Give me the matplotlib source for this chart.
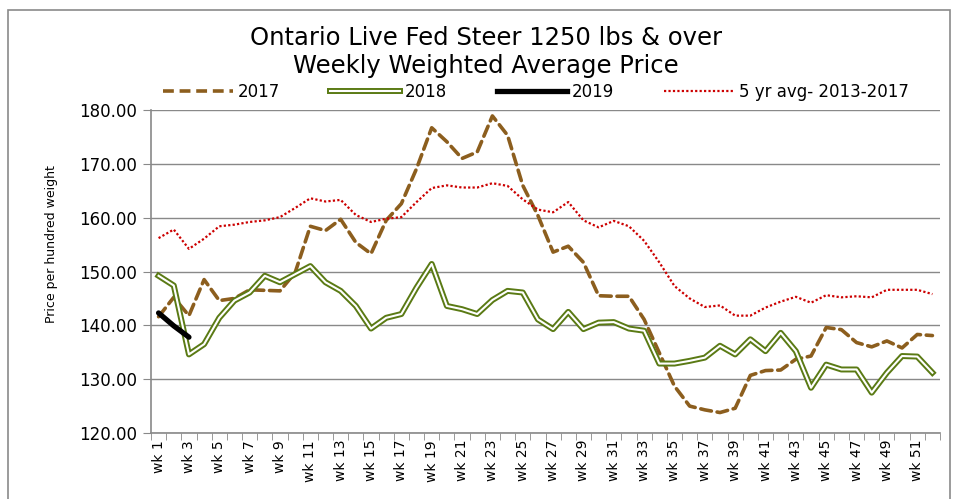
import matplotlib
matplotlib.use("Agg")
import matplotlib.pyplot as plt
from matplotlib.lines import Line2D
from matplotlib.legend_handler import HandlerTuple
from matplotlib.patches import Rectangle
import numpy as np

# data (price per cwt, weekly)
weeks = ['wk %d' % i for i in range(1, 53)]

y2017 = [141.6, 145.2, 141.8, 148.5, 144.6, 145.0, 146.6, 146.5, 146.4, 149.8,
         158.4, 157.6, 159.7, 155.4, 153.3, 159.5, 162.6, 169.1, 176.7, 174.1,
         171.0, 172.2, 178.9, 175.3, 166.0, 160.4, 153.6, 154.7, 151.7, 145.5,
         145.4, 145.4, 141.1, 134.9, 128.7, 125.0, 124.3, 123.8, 124.6, 130.7,
         131.6, 131.7, 133.7, 134.3, 139.6, 139.2, 136.8, 136.0, 137.1, 135.8,
         138.3, 138.1]

y2018 = [149.2, 147.4, 134.6, 136.5, 141.4, 144.6, 146.1, 149.2, 148.0, 149.5,
         151.0, 148.0, 146.4, 143.6, 139.4, 141.4, 142.1, 147.0, 151.4, 143.6,
         143.0, 142.1, 144.7, 146.4, 146.1, 141.1, 139.3, 142.5, 139.3, 140.5,
         140.6, 139.4, 139.0, 132.9, 132.9, 133.4, 134.0, 136.2, 134.6, 137.4,
         135.2, 138.6, 135.2, 128.4, 132.7, 131.8, 131.8, 127.5, 131.2, 134.3,
         134.2, 131.2]

y2019 = [142.3, 139.9, 137.8]

avg5 = [156.2, 157.8, 154.2, 156.1, 158.4, 158.7, 159.2, 159.5, 160.1, 161.8,
        163.6, 163.0, 163.3, 160.5, 159.2, 159.8, 160.1, 162.9, 165.5, 166.0,
        165.6, 165.6, 166.4, 165.9, 163.4, 161.5, 161.0, 162.9, 159.5, 158.2,
        159.4, 158.4, 155.7, 151.7, 147.3, 145.0, 143.4, 143.7, 141.8, 141.8,
        143.3, 144.4, 145.3, 144.2, 145.6, 145.2, 145.4, 145.2, 146.6, 146.6,
        146.6, 145.8]

brown = '#8c5e1e'
green = '#5a7a14'
red = '#cc0000'
gridc = '#898989'

plt.rcParams['font.family'] = ['DejaVu Sans']

W, H = 958, 499
fig = plt.figure(figsize=(W / 100, H / 100), dpi=100)
fig.patches.append(Rectangle((8 / W, -0.05), 942 / W, 1 - 10 / H + 0.05,
                             transform=fig.transFigure, fill=False,
                             edgecolor='#8a8a8a', lw=1.2))

ax = fig.add_axes([151 / W, 1 - 433 / H, 789 / W, 323 / H])
x = np.arange(len(weeks))

ax.plot(x, y2017, color=brown, lw=2.6, dashes=(3, 1.6), dash_capstyle='round')
ax.plot(x, y2018, color=green, lw=4.3, solid_joinstyle='round')
ax.plot(x, y2018, color='white', lw=1.5, solid_joinstyle='round')
ax.plot(x[:len(y2019)], y2019, color='black', lw=3.8, solid_capstyle='round')
ax.plot(x, avg5, color=red, lw=1.6, dashes=(1, 1))

ax.set_xlim(-0.5, len(weeks) - 0.5)
ax.set_ylim(120, 180)
ax.set_yticks(np.arange(120, 181, 10))
ax.set_yticklabels(['%.2f' % v for v in np.arange(120, 181, 10)], fontsize=12)
ax.grid(axis='y', color=gridc, lw=1)
ax.set_axisbelow(True)

ax.set_xticks(x[::2])
ax.set_xticklabels(weeks[::2], rotation=90, fontsize=10)
ax.set_xticks(np.arange(-0.5, len(weeks), 1), minor=True)
ax.tick_params(axis='x', which='major', length=0, pad=5)
ax.tick_params(axis='x', which='minor', length=5, color=gridc, direction='out')
ax.tick_params(axis='y', length=6, color=gridc, direction='out', pad=4)

for s in ['top', 'right']:
    ax.spines[s].set_visible(False)
for s in ['left', 'bottom']:
    ax.spines[s].set_color(gridc)
    ax.spines[s].set_linewidth(1.2)

fig.text(52 / W, 1 - 244 / H, 'Price per hundred weight', rotation=90,
         ha='center', va='center', fontsize=9)

fig.text(486 / W, 1 - 38 / H, 'Ontario Live Fed Steer 1250 lbs & over',
         ha='center', va='center', fontsize=17.5)
fig.text(486 / W, 1 - 66 / H, 'Weekly Weighted Average Price',
         ha='center', va='center', fontsize=17.5)

h17 = Line2D([], [], color=brown, lw=2.6, dashes=(3, 1.6))
h18 = (Line2D([], [], color=green, lw=4.3), Line2D([], [], color='white', lw=1.5))
h19 = Line2D([], [], color='black', lw=3.8)
h5 = Line2D([], [], color=red, lw=1.6, dashes=(1, 1))
fig.legend([h17, h18, h19, h5], ['2017', '2018', '2019', '5 yr avg- 2013-2017'],
           handler_map={tuple: HandlerTuple(ndivide=1)},
           loc='center', bbox_to_anchor=(536 / W, 1 - 92 / H), ncol=4,
           frameon=False, fontsize=12, handlelength=4.2, handletextpad=0.3,
           columnspacing=3.0, borderpad=0)

fig.savefig('out.png', dpi=100)
